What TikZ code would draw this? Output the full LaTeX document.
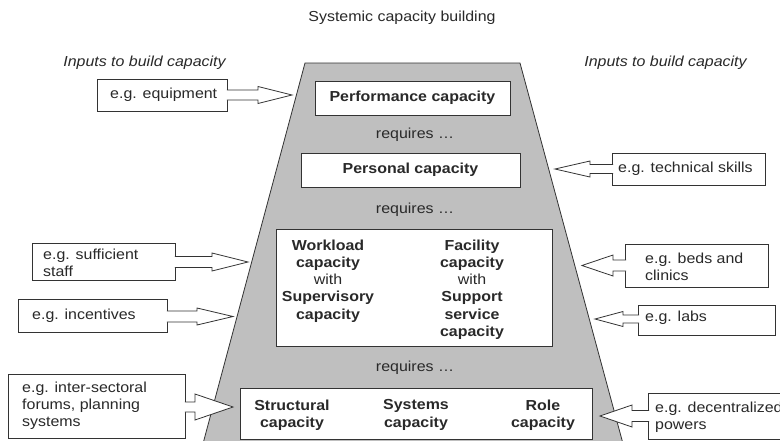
\documentclass[tikz,border=0pt]{standalone}
\usepackage{fontspec}
\setmainfont[FakeStretch=1.1]{Liberation Sans}
\usetikzlibrary{calc}
\definecolor{trapgray}{gray}{0.75}
\definecolor{txtcol}{gray}{0.16}
\definecolor{linecol}{gray}{0.2}
% #1 box anchor, #2 tip coordinate, #3 head base offset (signed), #4 head half width, #5 shaft half width, #6 start offset into box
\newcommand\hollowarrow[6]{%
  \coordinate (ha-s) at ($(#1 |- #2)+(#6,0)$);
  \filldraw[arrowline] ($(ha-s)+(0,-#5)$) -- ($(#2)+(#3,-#5)$) -- ($(#2)+(#3,-#4)$) -- (#2)
    -- ($(#2)+(#3,#4)$) -- ($(#2)+(#3,#5)$) -- ($(ha-s)+(0,#5)$);
}
\begin{document}
\begin{tikzpicture}[x=1pt,y=-1pt,
  font=\fontsize{14.5}{17}\selectfont, text=txtcol,
  inbox/.style={draw=linecol, fill=white, line width=0.8pt, inner sep=0pt, anchor=north west},
  capbox/.style={draw=linecol, fill=white, line width=0.8pt, inner sep=0pt},
  arrowline/.style={draw=linecol, fill=white, line width=0.8pt, line join=miter},
  lbl/.style={inner sep=0pt, align=left, anchor=west},
  col/.style={inner sep=0pt, align=center, anchor=north, font=\fontsize{14.5}{17.2}\selectfont},
  plain/.style={inner sep=0pt}]
\useasboundingbox (0,0) rectangle (780,440);
\clip (0,0) rectangle (780,440);
\fill[white] (0,0) rectangle (780,440);

% title and headings
\node[plain] (title) at (402,18) {Systemic capacity building};
\node[plain, font=\fontsize{14.5}{17}\selectfont\itshape] (inL) at (144.5,63) {Inputs to build capacity};
\node[plain, font=\fontsize{14.5}{17}\selectfont\itshape] (inR) at (665.5,63) {Inputs to build capacity};

% trapezoid
\draw[draw=linecol, fill=trapgray, line width=0.8pt, line join=miter]
  (305,63) -- (520,63) -- (624.7,450) -- (201.3,450) -- cycle;

% capacity boxes
\node[capbox, minimum width=195pt, minimum height=34pt] (perf) at (412.5,98) {\bfseries Performance capacity};
\node[plain] (req1) at (415,135) {requires …};
\node[capbox, minimum width=219pt, minimum height=34pt] (pers) at (410.5,170) {\bfseries Personal capacity};
\node[plain] (req2) at (415,210) {requires …};
\node[capbox, minimum width=276pt, minimum height=117pt] (mid) at (414,287.5) {};
\node[col] (wl) at (328,239.5) {\textbf{Workload}\\\textbf{capacity}\\with\\\textbf{Supervisory}\\\textbf{capacity}};
\node[col] (fc) at (472,239.5) {\textbf{Facility}\\\textbf{capacity}\\with\\\textbf{Support}\\\textbf{service}\\\textbf{capacity}};
\node[plain] (req3) at (415,368) {requires …};
\node[capbox, minimum width=352pt, minimum height=51pt] (bot) at (416,413.5) {};
\node[col] (st) at (292,399.5) {\textbf{Structural}\\\textbf{capacity}};
\node[col] (sy) at (416,399.5) {\textbf{Systems}\\\textbf{capacity}};
\node[col] (ro) at (543,399.5) {\textbf{Role}\\\textbf{capacity}};

% input boxes, left
\node[inbox, minimum width=130pt, minimum height=32pt] (equip) at (97,79) {};
\node[lbl] (equipT) at (110,95) {e.g. equipment};
\node[inbox, minimum width=143pt, minimum height=37pt] (staff) at (32,243) {};
\node[lbl] (staffT) at (43,262.5) {e.g. sufficient\\staff};
\node[inbox, minimum width=149pt, minimum height=33pt] (incent) at (18,299) {};
\node[lbl] (incentT) at (32,316) {e.g. incentives};
\node[inbox, minimum width=177pt, minimum height=64pt] (inter) at (8,374) {};
\node[lbl] (interT) at (22,405.5) {e.g. inter-sectoral\\forums, planning\\systems};

% input boxes, right
\node[inbox, minimum width=153pt, minimum height=32pt] (tech) at (612,153) {};
\node[lbl] (techT) at (618,169) {e.g. technical skills};
\node[inbox, minimum width=143pt, minimum height=43pt] (beds) at (625,244) {};
\node[lbl] (bedsT) at (645,267) {e.g. beds and\\clinics};
\node[inbox, minimum width=137pt, minimum height=30pt] (labs) at (638,305) {};
\node[lbl] (labsT) at (645,318) {e.g. labs};
\node[inbox, minimum width=142pt, minimum height=46pt] (dec) at (648,393) {};
\node[lbl] (decT) at (655,417.5) {e.g. decentralized\\powers};

% arrow tips on the trapezoid
\coordinate (t1) at (292,95);
\coordinate (t2) at (248,262);
\coordinate (t3) at (233,316.5);
\coordinate (t4) at (233,407);
\coordinate (t5) at (555,169);
\coordinate (t6) at (582,265.5);
\coordinate (t7) at (595,319);
\coordinate (t8) at (600,416);

% hollow arrows
\hollowarrow{equip.east}{t1}{-34}{8.5}{5}{-1}
\hollowarrow{staff.east}{t2}{-36}{9}{5.5}{-1}
\hollowarrow{incent.east}{t3}{-36}{8.5}{5.5}{-1}
\hollowarrow{inter.east}{t4}{-38}{13}{5}{-1}
\hollowarrow{tech.west}{t5}{35}{8}{4.5}{1}
\hollowarrow{beds.west}{t6}{31}{10.5}{5.5}{1}
\hollowarrow{labs.west}{t7}{28}{7.5}{4}{1}
\hollowarrow{dec.west}{t8}{32}{11}{5.5}{1}
\end{tikzpicture}
\end{document}
